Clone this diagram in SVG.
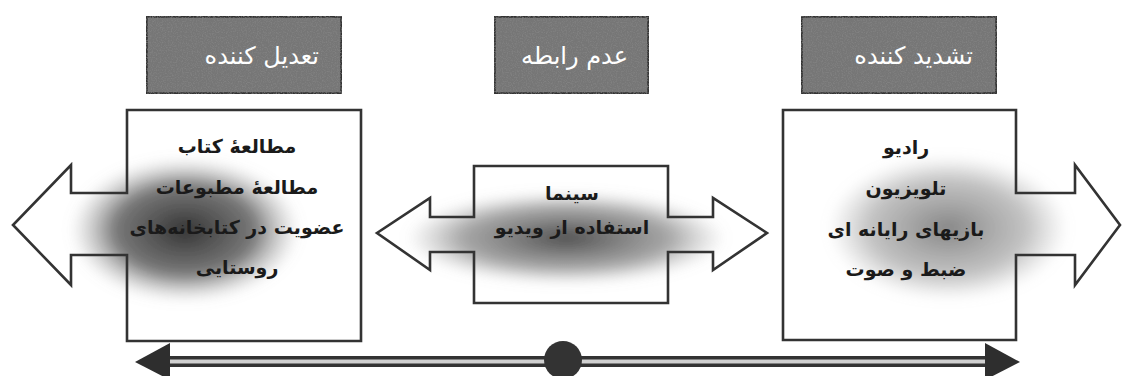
<svg xmlns="http://www.w3.org/2000/svg" width="1122" height="376" viewBox="0 0 1122 376">
<style>
.hdr{fill:#767676;stroke:#333333;stroke-width:3.5}
.hdrt{font-family:"DejaVu Sans",sans-serif;font-size:24px;fill:#ffffff;text-anchor:end}
.shape{fill:#ffffff;stroke:none}
.outline{fill:none;stroke:#333333;stroke-width:2.6;stroke-linejoin:miter}
.body{font-family:"DejaVu Sans",sans-serif;font-size:19px;font-weight:bold;fill:#1a1a1a;text-anchor:middle}
</style>
<defs>
<filter id="grain" x="0" y="0" width="100%" height="100%">
<feTurbulence type="fractalNoise" baseFrequency="0.8" numOctaves="2" seed="3" result="n"/>
<feColorMatrix in="n" type="matrix" values="0 0 0 0 0.25 0 0 0 0 0.25 0 0 0 0 0.25 1.6 0 0 0 -0.7" result="g"/>
<feComposite in="g" in2="SourceGraphic" operator="atop"/>
</filter>
<filter id="blur" x="-30%" y="-50%" width="160%" height="200%">
<feGaussianBlur stdDeviation="6"/>
</filter>
<radialGradient id="gL" cx="0.5" cy="0.5" r="0.5">
<stop offset="0" stop-color="#333333" stop-opacity="1"/>
<stop offset="0.6" stop-color="#555555" stop-opacity="0.8"/>
<stop offset="1" stop-color="#999999" stop-opacity="0"/>
</radialGradient>
<radialGradient id="gM" cx="0.5" cy="0.5" r="0.5">
<stop offset="0" stop-color="#444444" stop-opacity="0.95"/>
<stop offset="0.65" stop-color="#777777" stop-opacity="0.65"/>
<stop offset="1" stop-color="#999999" stop-opacity="0"/>
</radialGradient>
<radialGradient id="gR" cx="0.5" cy="0.5" r="0.5">
<stop offset="0" stop-color="#707070" stop-opacity="0.85"/>
<stop offset="0.65" stop-color="#999999" stop-opacity="0.6"/>
<stop offset="1" stop-color="#aaaaaa" stop-opacity="0"/>
</radialGradient>
</defs>
<rect width="1122" height="376" fill="#ffffff"/>

<g id="hdr-left">
<rect class="hdr" x="146" y="16" width="196" height="78" filter="url(#grain)"/>
<text class="hdrt" x="319" y="64">تعدیل کننده</text>
</g>
<g id="hdr-mid">
<rect class="hdr" x="494" y="16" width="155" height="78" filter="url(#grain)"/>
<text class="hdrt" x="628" y="64">عدم رابطه</text>
</g>
<g id="hdr-right">
<rect class="hdr" x="801" y="16" width="196" height="78" filter="url(#grain)"/>
<text class="hdrt" x="973" y="64">تشدید کننده</text>
</g>

<g id="node-left">
<path class="shape" d="M127,110 H361 V341 H127 V255 H71 V285 L13,225 L71,165 V193 H127 Z"/>
<ellipse cx="185" cy="230" rx="115" ry="72" fill="url(#gL)" filter="url(#blur)"/>
<path class="outline" d="M127,110 H361 V341 H127 V255 H71 V285 L13,225 L71,165 V193 H127 Z"/>
<text class="body" x="237" y="153">مطالعهٔ کتاب</text>
<text class="body" x="237" y="194">مطالعهٔ مطبوعات</text>
<text class="body" x="237" y="234">عضویت در کتابخانه‌های</text>
<text class="body" x="237" y="274">روستایی</text>
</g>

<g id="node-mid">
<path class="shape" d="M474,166 H668 V217 H713 V198 L767,233 L713,270 V252 H668 V303 H474 V252 H430 V270 L377,233 L430,198 V217 H474 Z"/>
<ellipse cx="566" cy="238" rx="160" ry="46" fill="url(#gM)" filter="url(#blur)"/>
<path class="outline" d="M474,166 H668 V217 H713 V198 L767,233 L713,270 V252 H668 V303 H474 V252 H430 V270 L377,233 L430,198 V217 H474 Z"/>
<text class="body" x="572" y="200">سینما</text>
<text class="body" x="572" y="234">استفاده از ویدیو</text>
</g>

<g id="node-right">
<path class="shape" d="M783,110 H1016 V193 H1075 V165 L1120,225 L1075,285 V255 H1016 V340 H783 Z"/>
<ellipse cx="948" cy="228" rx="120" ry="72" fill="url(#gR)" filter="url(#blur)"/>
<path class="outline" d="M783,110 H1016 V193 H1075 V165 L1120,225 L1075,285 V255 H1016 V340 H783 Z"/>
<text class="body" x="906" y="154">رادیو</text>
<text class="body" x="906" y="195">تلویزیون</text>
<text class="body" x="906" y="236">بازیهای رایانه ای</text>
<text class="body" x="906" y="276">ضبط و صوت</text>
</g>

<g id="connectors">
<line x1="165" y1="361.5" x2="990" y2="361.5" stroke="#333333" stroke-width="11"/>
<line x1="165" y1="361.5" x2="990" y2="361.5" stroke="#d0d0d0" stroke-width="4"/>
<polygon points="135,362 170,343 170,380" fill="#2e2e2e"/>
<polygon points="1020,362 985,343 985,380" fill="#2e2e2e"/>
<circle cx="563" cy="360" r="19" fill="#333333"/>
</g>
</svg>
